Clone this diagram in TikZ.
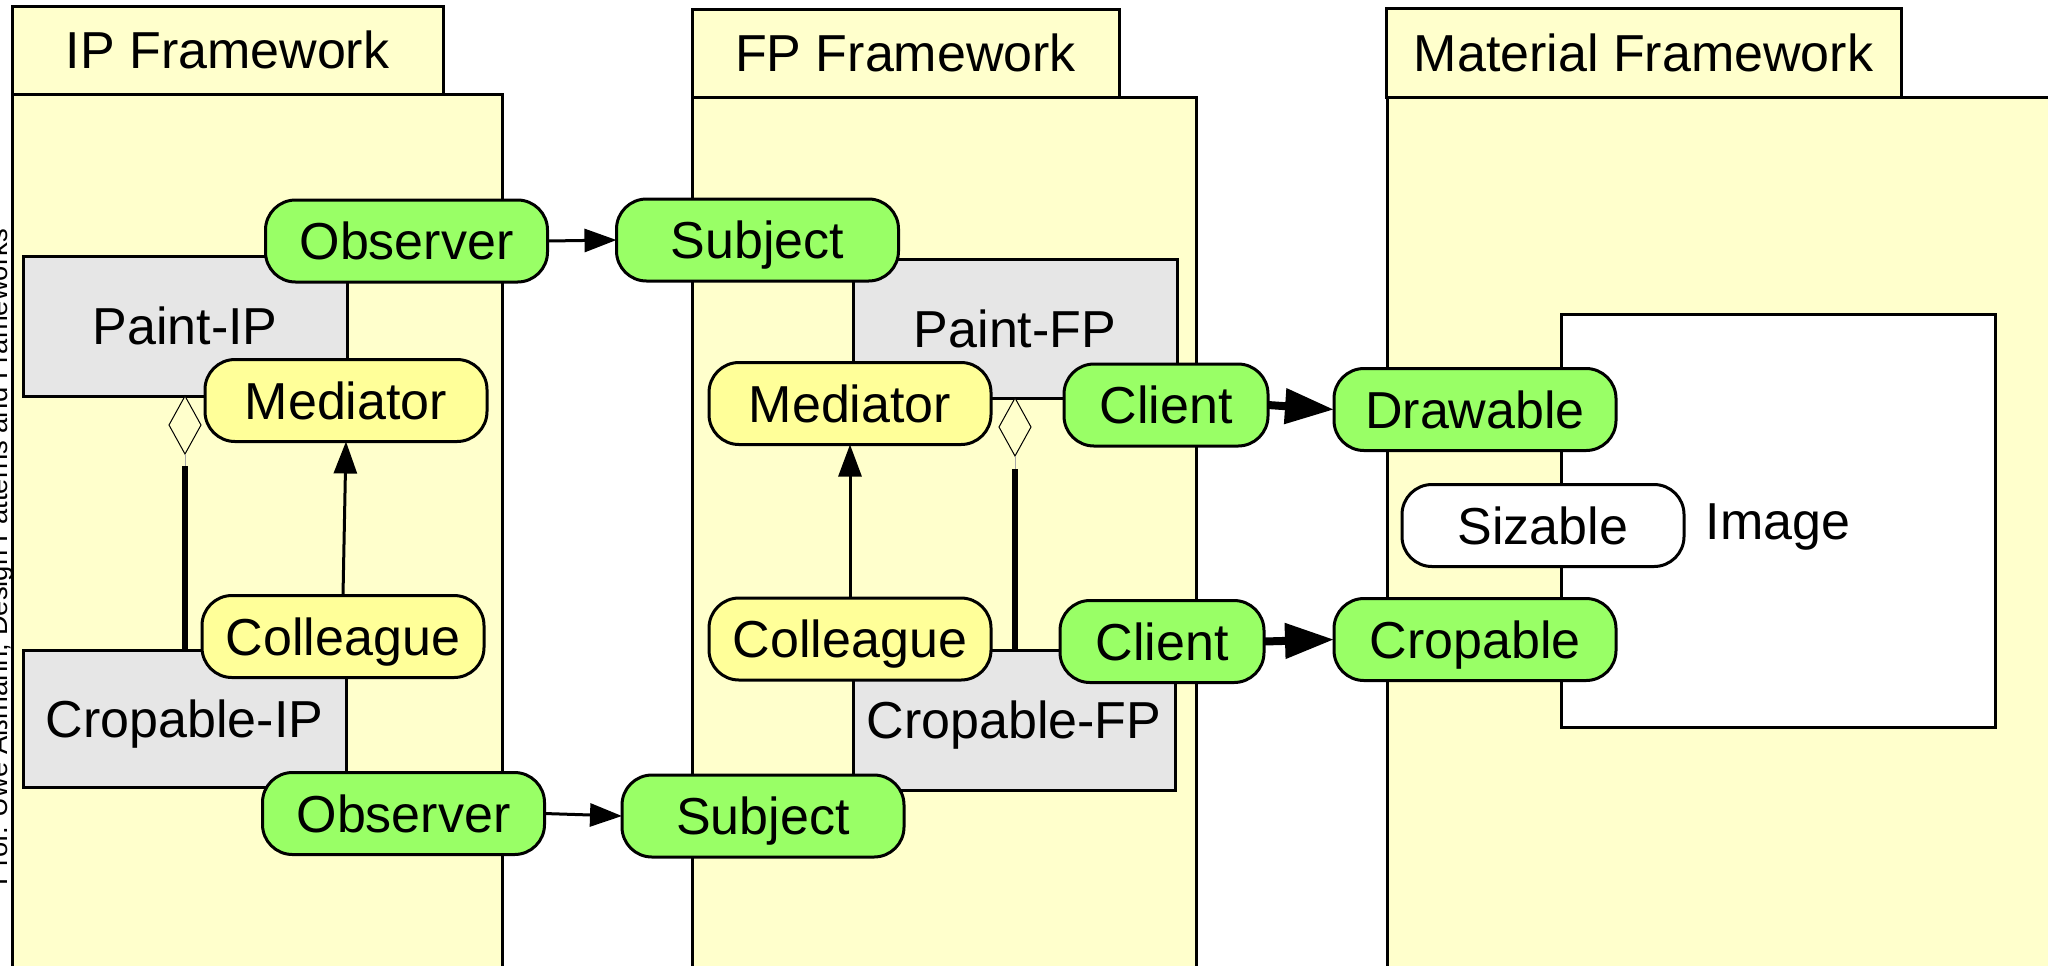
\documentclass[tikz,border=0pt]{standalone}
\usepackage{fontspec}
\setmainfont{Liberation Sans}
\usetikzlibrary{shapes.geometric,arrows.meta,fit,calc}

\definecolor{fwfill}{HTML}{FFFFCC}
\definecolor{clsfill}{HTML}{E6E6E6}
\definecolor{rolegreen}{HTML}{99FF66}
\definecolor{roleyellow}{HTML}{FFFF99}

\begin{document}
\begin{tikzpicture}[x=0.5pt,y=-0.5pt,
  every node/.style={inner sep=0pt,outer sep=0pt},
  lbl/.style={font=\fontsize{26}{30}\selectfont,text height=18.6pt,text depth=0pt},
  fwbody/.style={draw,fill=fwfill,line width=1.5pt},
  cls/.style={draw,fill=clsfill,line width=1.5pt},
  role/.style={draw,line width=1.5pt,rounded corners=15pt,minimum height=41pt,minimum width=141pt,lbl},
  rolegr/.style={role,fill=rolegreen},
  roleyl/.style={role,fill=roleyellow},
  rolewh/.style={role,fill=white},
  narrowrole/.style={minimum width=102pt},
  assoc/.style={line width=1.5pt,-{Triangle[length=16pt,width=11.5pt]}},
  bigassoc/.style={line width=4pt,-{Triangle[length=24.5pt,width=17pt]}},
  aggbar/.style={line width=3pt},
  aggtie/.style={line width=0.4pt,black!35},
  aggdiamond/.style={diamond,draw,line width=0.5pt,fill=fwfill,minimum width=16pt,minimum height=29pt,anchor=north}
]
% canvas
\fill[white] (0,0) rectangle (2048,965);
\useasboundingbox (0,0) rectangle (2048,965);

% credit line along the left edge
\node[rotate=90,anchor=base west,font=\fontsize{13.7}{16}\selectfont] (credit) at (7,885)
  {Prof. Uwe Aßmann, Design Patterns and Frameworks};

% framework bodies
\node[fwbody,fit={(12,94) (502,1000)}] (ipBody) {};
\node[fwbody,fit={(692,97) (1196,1000)}] (fpBody) {};
\node[fwbody,fit={(1387,97) (2100,1000)}] (matBody) {};

% framework tabs
\node[fwbody,fit={(12,6) (443,94)}] (ipTab) {};
\node[lbl] (ipTitle) at (ipTab.center) {IP Framework};
\node[fwbody,fit={(692,9) (1119,97)}] (fpTab) {};
\node[lbl] (fpTitle) at (fpTab.center) {FP Framework};
\node[fwbody,fit={(1386,8) (1901,97)}] (matTab) {};
\node[lbl] (matTitle) at (matTab.center) {Material Framework};

% classes
\node[cls,fit={(23,256) (347,396)}] (paintIP) {};
\node[lbl] (paintIPname) at (paintIP.center) {Paint-IP};
\node[cls,fit={(23,650) (346,787)}] (cropIP) {};
\node[lbl] (cropIPname) at (cropIP.center) {Cropable-IP};
\node[cls,fit={(853,259) (1177,398)}] (paintFP) {};
\node[lbl] (paintFPname) at (paintFP.center) {Paint-FP};
\node[cls,fit={(853,650) (1175,790)}] (cropFP) {};
\node[lbl] (cropFPname) at (cropFP.center) {Cropable-FP};
\node[draw,fill=white,line width=1.5pt,fit={(1561,314) (1995,727)}] (imgBox) {};
\node[lbl] (imgName) at (imgBox.center) {Image};

% roles
\node[rolegr] (obsTop) at (406.5,241) {Observer};
\node[rolegr] (subjTop) at (757.5,240) {Subject};
\node[roleyl] (medIP) at (346,400.5) {Mediator};
\node[roleyl] (colIP) at (343,636.5) {Colleague};
\node[rolegr] (obsBot) at (403.5,813.5) {Observer};
\node[rolegr] (subjBot) at (763,816) {Subject};

\node[roleyl] (medFP) at (850,403.5) {Mediator};
\node[rolegr,narrowrole] (clientTop) at (1166,405) {Client};
\node[roleyl] (colFP) at (850,639) {Colleague};
\node[rolegr,narrowrole] (clientBot) at (1162,641.5) {Client};

\node[rolegr] (drawable) at (1475,409.5) {Drawable};
\node[rolewh] (sizable) at (1543,525.5) {Sizable};
\node[rolegr] (cropable) at (1475,639.5) {Cropable};

% aggregation of the colleague class into the mediator class
\node[aggdiamond] (dmIP) at (paintIP.south) {};
\coordinate (aggIP) at ($(dmIP.south)+(0,12)$);
\draw[aggtie] (dmIP.south) -- (aggIP);
\draw[aggbar] (aggIP) -- (aggIP |- cropIP.north);

\node[aggdiamond] (dmFP) at (paintFP.south) {};
\coordinate (aggFP) at ($(dmFP.south)+(0,13)$);
\draw[aggtie] (dmFP.south) -- (aggFP);
\draw[aggbar] (aggFP) -- (aggFP |- cropFP.north);

% associations
\draw[assoc] (obsTop.east) -- (subjTop.west);
\draw[assoc] (obsBot.east) -- (subjBot.west);
\draw[assoc] (colIP.north) -- (medIP.south);
\draw[assoc] (colFP.north) -- (medFP.south);
\draw[bigassoc] (clientTop.east) -- (drawable.west);
\draw[bigassoc] (clientBot.east) -- (cropable.west);
\end{tikzpicture}
\end{document}
